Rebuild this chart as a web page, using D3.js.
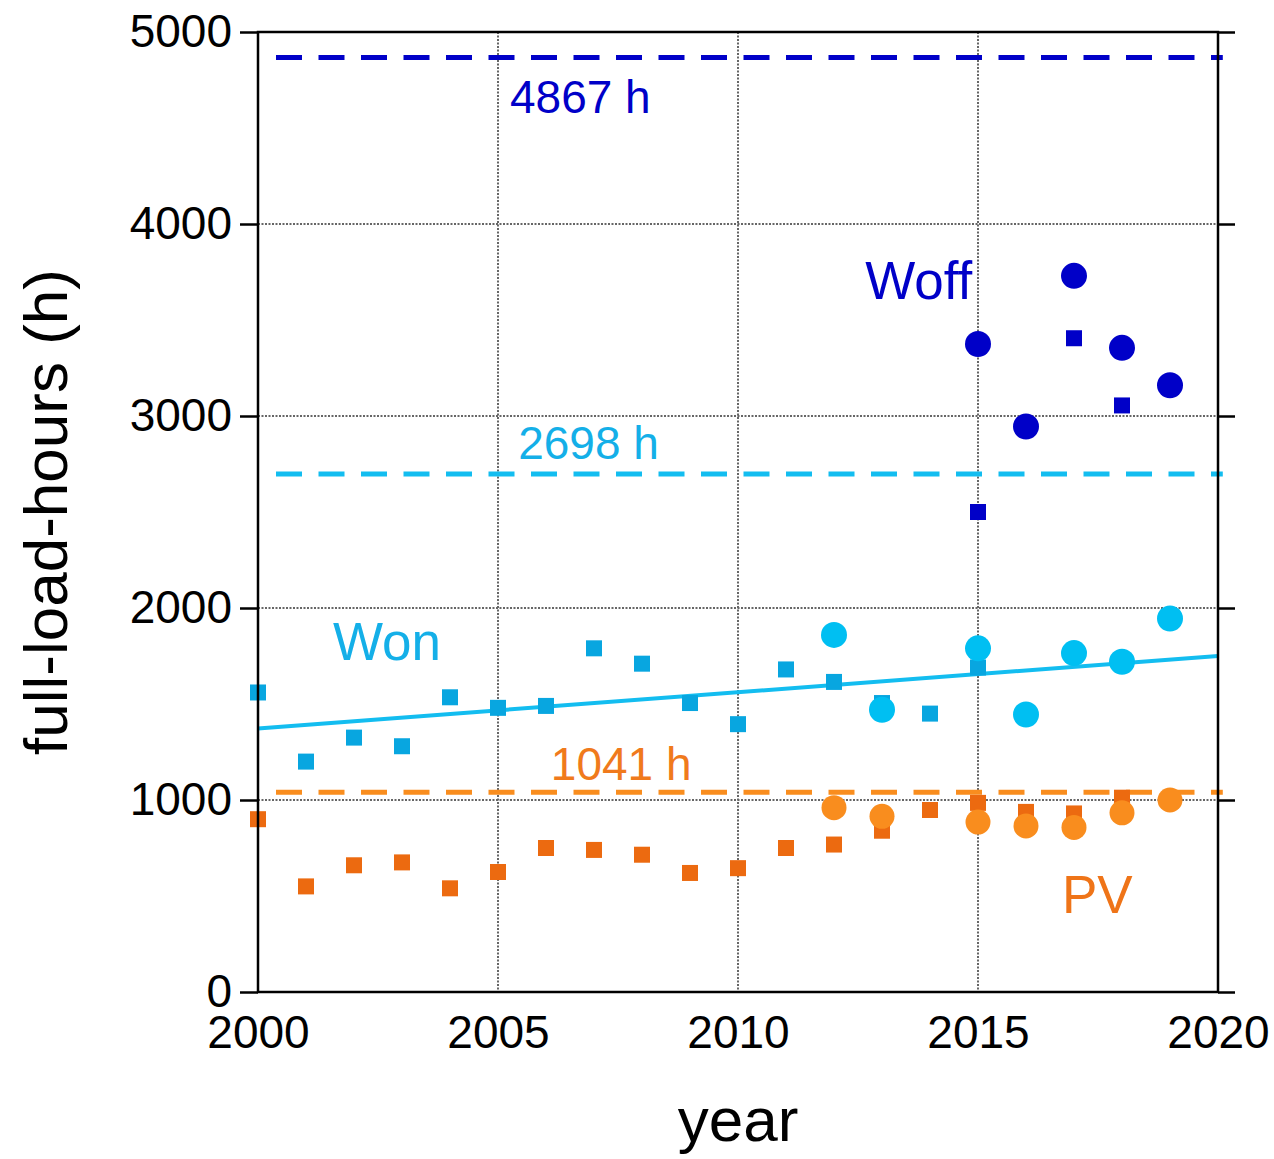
<!DOCTYPE html>
<html>
<head>
<meta charset="utf-8">
<script src="https://cdn.jsdelivr.net/npm/d3@7"></script>
<style>
  body { margin: 0; background: #fff; }
  text { font-family: "Liberation Sans", Arial, sans-serif; }
</style>
</head>
<body>
<div id="chart"></div>
<script>
// wind onshore, yearly (squares) and second source (circles)
var wonSquareYears = [2000, 2001, 2002, 2003, 2004, 2005, 2006, 2007, 2008, 2009, 2010, 2011, 2012, 2013, 2014, 2015];
var wonSquares = [1560, 1200, 1325, 1280, 1535, 1480, 1490, 1790, 1710, 1505, 1395, 1680, 1615, 1505, 1450, 1690];
var wonCircleYears = [2012, 2013, 2015, 2016, 2017, 2018, 2019];
var wonCircles = [1860, 1470, 1790, 1445, 1765, 1720, 1945];

// photovoltaics
var pvSquareYears = [2000, 2001, 2002, 2003, 2004, 2005, 2006, 2007, 2008, 2009, 2010, 2011, 2012, 2013, 2014, 2015, 2016, 2017, 2018];
var pvSquares = [900, 550, 660, 675, 540, 625, 750, 740, 715, 620, 645, 750, 768, 840, 948, 985, 938, 930, 1012];
var pvCircleYears = [2012, 2013, 2015, 2016, 2017, 2018, 2019];
var pvCircles = [960, 915, 885, 865, 857, 933, 1000];

// wind offshore
var woffSquareYears = [2015, 2017, 2018];
var woffSquares = [2500, 3405, 3055];
var woffCircleYears = [2015, 2016, 2017, 2018, 2019];
var woffCircles = [3375, 2945, 3730, 3355, 3160];

// linear trend of Won
var trendYears = [2000, 2020];
var trendValues = [1373, 1750];

// reference full-load-hours (dashed lines)
var refValues = [4867, 2698, 1041];
var refLabels = ["4867 h", "2698 h", "1041 h"];

var xTicks = [2000, 2005, 2010, 2015, 2020];
var yTicks = [0, 1000, 2000, 3000, 4000, 5000];

var colWoff = "#0000c8",
  colWonSq = "#08a6e0",
  colWonCi = "#00bff2",
  colWonLine = "#13bdf0",
  colWonText = "#14afe8",
  colPvSq = "#ec6a10",
  colPvCi = "#f98d1e",
  colPvText = "#ef7418";
var refColors = [colWoff, colWonLine, colPvCi];
var refTextColors = [colWoff, colWonText, "#f07a1c"];

var W = 1274, H = 1159;
var plotLeft = 258, plotRight = 1218, plotTop = 32, plotBottom = 992;

var svg = d3.select("#chart")
  .append("svg")
  .attr("width", W)
  .attr("height", H);

var x = d3.scaleLinear().domain([2000, 2020]).range([plotLeft, plotRight]);
var y = d3.scaleLinear().domain([0, 5000]).range([plotBottom, plotTop]);

// gridlines (dotted)
svg.append("g")
  .selectAll("line")
  .data(yTicks.slice(1, -1))
  .enter()
  .append("line")
  .attr("x1", plotLeft).attr("x2", plotRight)
  .attr("y1", d => y(d)).attr("y2", d => y(d))
  .attr("stroke", "#666")
  .attr("stroke-width", 2)
  .attr("stroke-dasharray", "2,1.5");

svg.append("g")
  .selectAll("line")
  .data(xTicks.slice(1, -1))
  .enter()
  .append("line")
  .attr("x1", d => x(d)).attr("x2", d => x(d))
  .attr("y1", plotTop).attr("y2", plotBottom)
  .attr("stroke", "#666")
  .attr("stroke-width", 2)
  .attr("stroke-dasharray", "2,1.5");

// reference lines
svg.append("g")
  .selectAll("line")
  .data(refValues)
  .enter()
  .append("line")
  .attr("x1", x(2000.375))
  .attr("x2", x(2020.1))
  .attr("y1", d => y(d)).attr("y2", d => y(d))
  .attr("stroke", (d, i) => refColors[i])
  .attr("stroke-width", 5)
  .attr("stroke-dasharray", "26,16.5");

// trend line
svg.append("line")
  .attr("x1", x(trendYears[0])).attr("y1", y(trendValues[0]))
  .attr("x2", x(trendYears[1])).attr("y2", y(trendValues[1]))
  .attr("stroke", colWonLine)
  .attr("stroke-width", 4);

function squares(years, vals, color, size) {
  svg.append("g")
    .selectAll("rect")
    .data(vals)
    .enter()
    .append("rect")
    .attr("x", (d, i) => x(years[i]) - size / 2)
    .attr("y", d => y(d) - size / 2)
    .attr("width", size)
    .attr("height", size)
    .attr("fill", color);
}

function circles(years, vals, color, r) {
  svg.append("g")
    .selectAll("circle")
    .data(vals)
    .enter()
    .append("circle")
    .attr("cx", (d, i) => x(years[i]))
    .attr("cy", d => y(d))
    .attr("r", r)
    .attr("fill", color);
}

squares(wonSquareYears, wonSquares, colWonSq, 16);
squares(pvSquareYears, pvSquares, colPvSq, 16);
squares(woffSquareYears, woffSquares, colWoff, 16);
circles(wonCircleYears, wonCircles, colWonCi, 13);
circles(pvCircleYears, pvCircles, colPvCi, 12.5);
circles(woffCircleYears, woffCircles, colWoff, 13);

// axes
var yLeft = svg.append("g")
  .attr("transform", "translate(" + plotLeft + ",0)")
  .call(d3.axisLeft(y).tickValues(yTicks).tickSize(18).tickPadding(8).tickFormat(d3.format("d")));

var yRight = svg.append("g")
  .attr("transform", "translate(" + plotRight + ",0)")
  .call(d3.axisRight(y).tickValues(yTicks).tickSize(17).tickFormat(""));

var xBottom = svg.append("g")
  .attr("transform", "translate(0," + plotBottom + ")")
  .call(d3.axisBottom(x).tickValues(xTicks).tickSize(0).tickPadding(23).tickFormat(d3.format("d")));

[yLeft, yRight, xBottom].forEach(function(g) {
  g.select(".domain").remove();
  g.selectAll("line").attr("stroke", "#000").attr("stroke-width", 2.5);
  g.selectAll("text")
    .attr("fill", "#000")
    .attr("font-size", "46px")
    .attr("font-family", "'Liberation Sans', Arial, sans-serif");
});

// frame
svg.append("rect")
  .attr("x", plotLeft).attr("y", plotTop)
  .attr("width", plotRight - plotLeft).attr("height", plotBottom - plotTop)
  .attr("fill", "none")
  .attr("stroke", "#000")
  .attr("stroke-width", 2.5);

// annotations
var refLabelPos = [[2005.25, 4578], [2005.42, 2775], [2006.1, 1104]];
svg.append("g")
  .selectAll("text")
  .data(refLabels)
  .enter()
  .append("text")
  .attr("x", (d, i) => x(refLabelPos[i][0]))
  .attr("y", (d, i) => y(refLabelPos[i][1]))
  .attr("font-size", "46px")
  .attr("fill", (d, i) => refTextColors[i])
  .text(d => d);

var seriesLabels = ["Won", "Woff", "PV"];
var seriesLabelPos = [[2001.56, 1729], [2012.65, 3608], [2016.75, 411]];
var seriesLabelColors = [colWonText, colWoff, colPvText];
svg.append("g")
  .selectAll("text")
  .data(seriesLabels)
  .enter()
  .append("text")
  .attr("x", (d, i) => x(seriesLabelPos[i][0]))
  .attr("y", (d, i) => y(seriesLabelPos[i][1]))
  .attr("font-size", "53px")
  .attr("fill", (d, i) => seriesLabelColors[i])
  .text(d => d);

// axis titles
svg.append("text")
  .attr("x", (plotLeft + plotRight) / 2)
  .attr("y", 1141)
  .attr("text-anchor", "middle")
  .attr("font-size", "62px")
  .attr("fill", "#000")
  .text("year");

svg.append("text")
  .attr("transform", "translate(67," + 512 + ") rotate(-90)")
  .attr("text-anchor", "middle")
  .attr("font-size", "62px")
  .attr("fill", "#000")
  .text("full-load-hours (h)");
</script>
</body>
</html>
